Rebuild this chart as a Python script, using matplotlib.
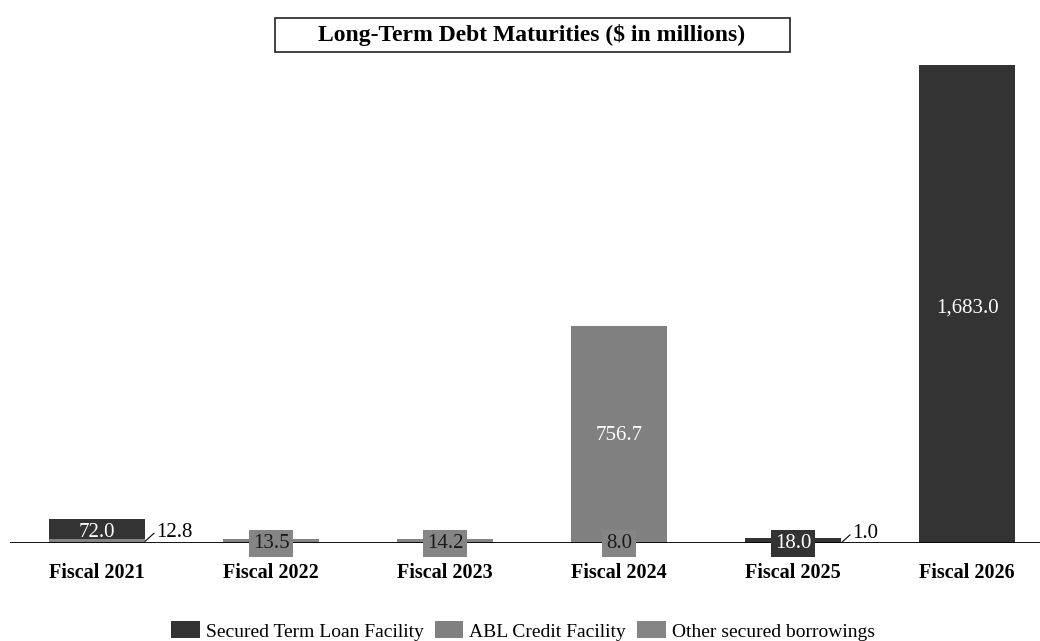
import matplotlib.pyplot as plt
from matplotlib.patches import Rectangle
import numpy as np

plt.rcParams["font.family"] = ["Liberation Serif", "DejaVu Serif"]

years = ["Fiscal 2021", "Fiscal 2022", "Fiscal 2023", "Fiscal 2024", "Fiscal 2025", "Fiscal 2026"]
term_loan = [72.0, 0.0, 0.0, 0.0, 18.0, 1683.0]
abl_credit = [0.0, 0.0, 0.0, 756.7, 0.0, 0.0]
other_secured = [12.8, 13.5, 14.2, 8.0, 1.0, 0.0]

DARK = "#333333"
GRAY = "#808080"
OTHER = "#858585"

fig = plt.figure(figsize=(10.4, 6.41), dpi=100)
# baseline at y=543px, top of the 1,683.0 bar at y=65px
ax = fig.add_axes([10 / 1040, (641 - 543) / 641, 1030 / 1040, 520 / 641])
x = np.arange(len(years))
w = 0.555

other = np.array(other_secured)
term = np.array(term_loan)
abl = np.array(abl_credit)

ax.bar(x, other, w, color=OTHER, label="Other secured borrowings", zorder=2)
ax.bar(x, term, w, bottom=other, color=DARK, label="Secured Term Loan Facility", zorder=2)
ax.bar(x, abl, w, bottom=other + term, color=GRAY, label="ABL Credit Facility", zorder=2)

ax.set_xlim(-0.5, -0.5 + 1030 / 174)
ax.set_ylim(0, 1683.0 * 520 / 478)
ax.axhline(0, color="black", lw=1.3, zorder=3)
for s in ax.spines.values():
    s.set_visible(False)
ax.set_xticks([])
ax.set_yticks([])

def boxed(xi, y, val, fc, tc):
    ax.text(xi, y, f"{val:,.1f}", ha="center", va="center", fontsize=15,
            color=tc, zorder=5,
            bbox=dict(boxstyle="square,pad=0.2", fc=fc, ec="none"))

def inside(xi, y, val):
    ax.text(xi, y, f"{val:,.1f}", ha="center", va="center_baseline", fontsize=15,
            color="white", zorder=5)

def leader(xi, y, val):
    x0 = xi + w / 2
    ax.plot([x0, x0 + 0.05], [y, y + 28], color="black", lw=0.8, zorder=5)
    ax.text(x0 + 0.06, y + 32, f"{val:,.1f}", ha="left", va="center",
            fontsize=15, color="black", zorder=5)

for i in range(len(years)):
    if term[i] > 0:
        if term[i] < 50:
            boxed(x[i], -2, term[i], DARK, "white")
        else:
            inside(x[i], other[i] + term[i] / 2 - 4, term[i])
    if abl[i] > 0:
        inside(x[i], other[i] + abl[i] / 2, abl[i])
    if other[i] > 0:
        if term[i] > 0:
            leader(x[i], other[i] / 2, other[i])
        else:
            boxed(x[i], -2, other[i], OTHER, "#1a1a1a")
    ax.text(x[i], -105, years[i], ha="center", va="center", fontsize=14.5,
            fontweight="bold", color="black")

# title in a framed box
fig.add_artist(Rectangle((275 / 1040, 1 - 52 / 641), 515 / 1040, 34 / 641,
                         transform=fig.transFigure, fc="white", ec="#222222", lw=1.2))
fig.text(532 / 1040, 1 - 35 / 641, "Long-Term Debt Maturities ($ in millions)",
         ha="center", va="center", fontsize=17, fontweight="bold")

h, l = ax.get_legend_handles_labels()
order = [1, 2, 0]
fig.legend([h[k] for k in order], [l[k] for k in order], loc="center",
           bbox_to_anchor=(523 / 1040, 1 - 631 / 641), ncol=3, frameon=False,
           fontsize=14, handlelength=1.45, handleheight=0.95, handletextpad=0.3,
           columnspacing=0.6, borderpad=0.2)

fig.savefig("out.png", dpi=100)
